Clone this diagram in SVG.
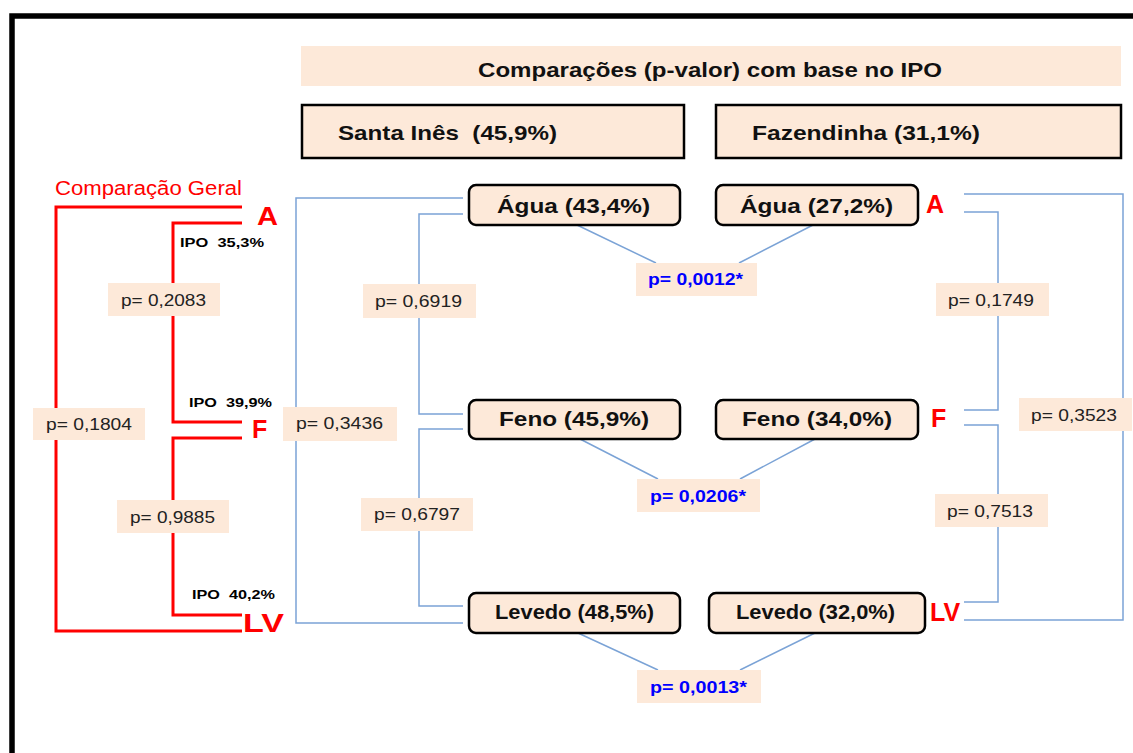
<svg xmlns="http://www.w3.org/2000/svg" width="1133" height="753" viewBox="0 0 1133 753">
<style>
text{font-family:"Liberation Sans",Arial,sans-serif;white-space:pre}
.band{fill:#fde9d9}
.hdr{fill:#fde9d9;stroke:#000;stroke-width:2.5}
.node{fill:#fde9d9;stroke:#000;stroke-width:2.5}
.nt{font-size:21px;font-weight:bold;fill:#111}
.lbl{fill:#fde9d9}
.pt{font-size:17px;fill:#222}
.pb{font-size:17px;font-weight:bold;fill:#0000ff}
.red{fill:#ff0000;font-weight:bold;font-size:25px}
.ipo{font-size:13px;font-weight:bold;fill:#000}
.rl{fill:none;stroke:#ff0000;stroke-width:3}
.bl{fill:none;stroke:#7ba3d6;stroke-width:1.5}
</style>
<rect width="1133" height="753" fill="#fff"/>
<path d="M12,753 V16 H1133" fill="none" stroke="#000" stroke-width="5.5"/>

<g id="title">
<rect class="band" x="301" y="46" width="820" height="40"/>
<text x="478" y="77" font-size="21" font-weight="bold" fill="#111" textLength="464" lengthAdjust="spacingAndGlyphs">Comparações (p-valor) com base no IPO</text>
</g>
<g id="santa-ines">
<rect class="hdr" x="302" y="105" width="382" height="53"/>
<text x="338" y="140" class="nt" xml:space="preserve" textLength="219" lengthAdjust="spacingAndGlyphs">Santa Inês  (45,9%)</text>
</g>
<g id="fazendinha">
<rect class="hdr" x="716" y="105" width="405" height="53"/>
<text x="752" y="140" class="nt" textLength="228" lengthAdjust="spacingAndGlyphs">Fazendinha (31,1%)</text>
</g>

<g id="connectors">
<path class="rl" d="M242,207 H56 V631 H242"/>
<path class="rl" d="M242,223 H173 V422 H242"/>
<path class="rl" d="M242,438 H173 V615 H242"/>
<path class="bl" d="M463,198 H296 V623 H463"/>
<path class="bl" d="M463,214 H419 V414 H463"/>
<path class="bl" d="M463,429 H419 V606 H463"/>
<path class="bl" d="M964,194 H1123 V620 H964"/>
<path class="bl" d="M964,212 H998 V410 H964"/>
<path class="bl" d="M964,425 H998 V602 H964"/>
<path class="bl" d="M577,225 L656,263 M813,225 L739,263"/>
<path class="bl" d="M580,439 L658,479 M815,439 L740,479"/>
<path class="bl" d="M578,633 L658,670 M815,633 L740,670"/>
</g>

<g id="comparacao-geral">
<text x="55" y="195" font-size="20" fill="#ff0000" textLength="187" lengthAdjust="spacingAndGlyphs">Comparação Geral</text>
</g>
<g id="left-letters">
<text x="257" y="225" class="red" textLength="21" lengthAdjust="spacingAndGlyphs">A</text>
<text x="252" y="438" class="red">F</text>
<text x="243" y="632" class="red" textLength="41" lengthAdjust="spacingAndGlyphs">LV</text>
</g>
<g id="ipo-labels">
<text x="180" y="247" class="ipo" xml:space="preserve" textLength="84" lengthAdjust="spacingAndGlyphs">IPO  35,3%</text>
<text x="189" y="407" class="ipo" xml:space="preserve" textLength="83" lengthAdjust="spacingAndGlyphs">IPO  39,9%</text>
<text x="192" y="599" class="ipo" xml:space="preserve" textLength="83" lengthAdjust="spacingAndGlyphs">IPO  40,2%</text>
</g>

<g id="p-2083"><rect class="lbl" x="108" y="283" width="112" height="33"/><text x="121" y="306" class="pt" textLength="85" lengthAdjust="spacingAndGlyphs">p= 0,2083</text></g>
<g id="p-1804"><rect class="lbl" x="33" y="408" width="112" height="32"/><text x="46" y="430" class="pt" textLength="86" lengthAdjust="spacingAndGlyphs">p= 0,1804</text></g>
<g id="p-9885"><rect class="lbl" x="117" y="500" width="112" height="33"/><text x="130" y="523" class="pt" textLength="85" lengthAdjust="spacingAndGlyphs">p= 0,9885</text></g>
<g id="p-6919"><rect class="lbl" x="363" y="284" width="113" height="34"/><text x="375" y="307" class="pt" textLength="87" lengthAdjust="spacingAndGlyphs">p= 0,6919</text></g>
<g id="p-3436"><rect class="lbl" x="283" y="407" width="114" height="34"/><text x="296" y="429" class="pt" textLength="87" lengthAdjust="spacingAndGlyphs">p= 0,3436</text></g>
<g id="p-6797"><rect class="lbl" x="361" y="498" width="112" height="33"/><text x="374" y="520" class="pt" textLength="86" lengthAdjust="spacingAndGlyphs">p= 0,6797</text></g>
<g id="p-1749"><rect class="lbl" x="936" y="283" width="113" height="33"/><text x="948" y="306" class="pt" textLength="86" lengthAdjust="spacingAndGlyphs">p= 0,1749</text></g>
<g id="p-3523"><rect class="lbl" x="1019" y="398" width="113" height="33"/><text x="1031" y="421" class="pt" textLength="86" lengthAdjust="spacingAndGlyphs">p= 0,3523</text></g>
<g id="p-7513"><rect class="lbl" x="935" y="494" width="113" height="33"/><text x="947" y="517" class="pt" textLength="86" lengthAdjust="spacingAndGlyphs">p= 0,7513</text></g>
<g id="p-0012"><rect class="lbl" x="636" y="263" width="121" height="33"/><text x="648" y="285" class="pb" textLength="95" lengthAdjust="spacingAndGlyphs">p= 0,0012*</text></g>
<g id="p-0206"><rect class="lbl" x="637" y="479" width="123" height="33"/><text x="650" y="502" class="pb" textLength="96" lengthAdjust="spacingAndGlyphs">p= 0,0206*</text></g>
<g id="p-0013"><rect class="lbl" x="637" y="670" width="124" height="33"/><text x="650" y="693" class="pb" textLength="97" lengthAdjust="spacingAndGlyphs">p= 0,0013*</text></g>

<g id="agua-si"><rect class="node" x="469" y="185" width="211" height="40" rx="7"/><text x="497" y="213" class="nt" textLength="153" lengthAdjust="spacingAndGlyphs">Água (43,4%)</text></g>
<g id="feno-si"><rect class="node" x="469" y="400" width="211" height="39" rx="7"/><text x="499" y="426" class="nt" textLength="150" lengthAdjust="spacingAndGlyphs">Feno (45,9%)</text></g>
<g id="levedo-si"><rect class="node" x="469" y="593" width="211" height="40" rx="7"/><text x="495" y="619" class="nt" textLength="159" lengthAdjust="spacingAndGlyphs">Levedo (48,5%)</text></g>
<g id="agua-fz"><rect class="node" x="716" y="185" width="202" height="40" rx="7"/><text x="740" y="213" class="nt" textLength="153" lengthAdjust="spacingAndGlyphs">Água (27,2%)</text></g>
<g id="feno-fz"><rect class="node" x="716" y="400" width="202" height="39" rx="7"/><text x="742" y="426" class="nt" textLength="150" lengthAdjust="spacingAndGlyphs">Feno (34,0%)</text></g>
<g id="levedo-fz"><rect class="node" x="709" y="593" width="216" height="40" rx="7"/><text x="736" y="619" class="nt" textLength="159" lengthAdjust="spacingAndGlyphs">Levedo (32,0%)</text></g>

<g id="right-letters">
<text x="926" y="213" class="red">A</text>
<text x="931" y="427" class="red">F</text>
<text x="930" y="621" class="red">LV</text>
</g>
</svg>
